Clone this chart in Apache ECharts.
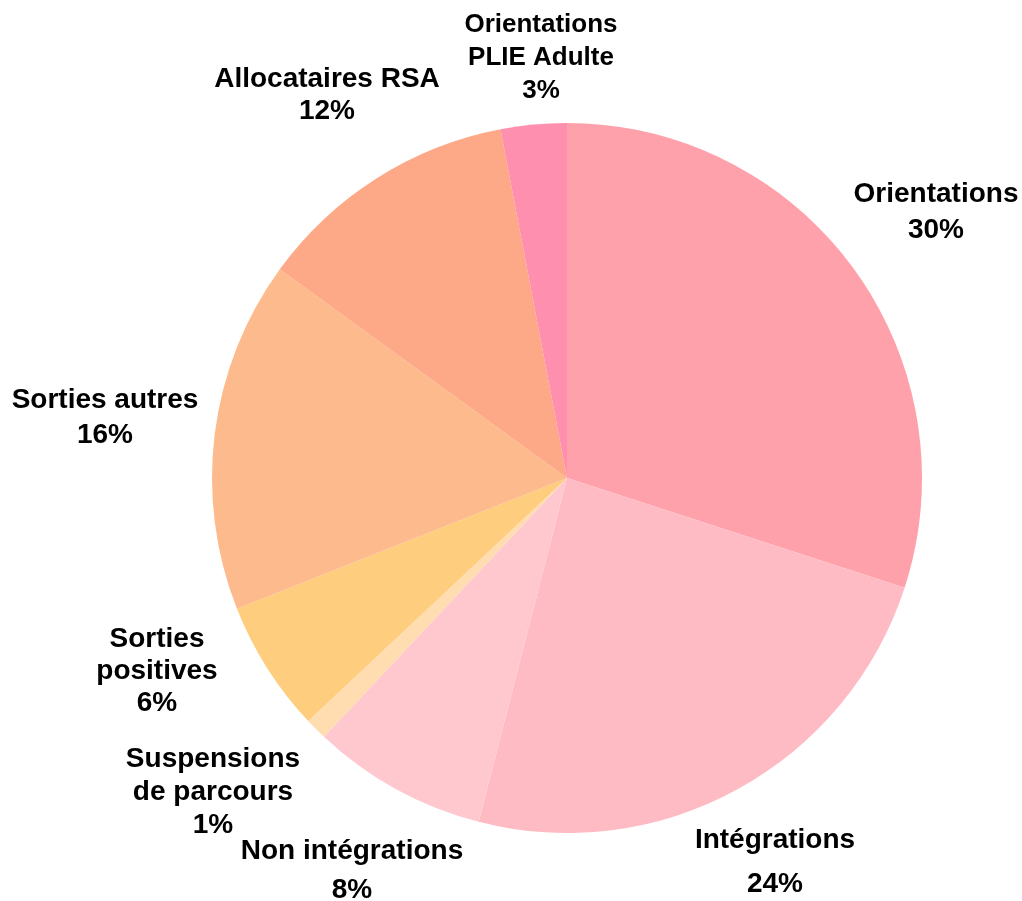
<!DOCTYPE html>
<html>
<head>
<meta charset="utf-8">
<script src="https://cdn.jsdelivr.net/npm/echarts@6/dist/echarts.min.js"></script>
<style>
  html, body { margin: 0; padding: 0; background: #fff; }
  #chart { width: 1022px; height: 901px; }
</style>
</head>
<body>
<div id="chart"></div>
<script>
// Slice names (with line breaks as shown), percentage shares and fill colours
const categories = [
  'Orientations',
  'Intégrations',
  'Non intégrations',
  'Suspensions\nde parcours',
  'Sorties\npositives',
  'Sorties autres',
  'Allocataires RSA',
  'Orientations\nPLIE Adulte'
];
const shares = [30, 24, 8, 1, 6, 16, 12, 3];
const colors = ['#FFA1AB', '#FFBBC3', '#FFC8CF', '#FFDDB0', '#FECD7D', '#FDBA8D', '#FDA886', '#FF8FAE'];

// Label text-block centres around the pie, and their line spacing
const labelAnchors = [
  [936, 212], [775, 862], [352, 871], [213, 792],
  [157, 671], [105, 418], [327, 95], [541, 58]
];
const labelLineHeights = [36, 44, 39, 33, 32, 35, 32, 33];
const labelFontSizes = [28, 28, 28, 28, 28, 28, 28, 26];

const chart = echarts.init(document.getElementById('chart'), null, { renderer: 'canvas' });

chart.setOption({
  animation: false,
  backgroundColor: '#ffffff',
  series: [{
    type: 'pie',
    center: [567, 478],
    radius: 355,
    startAngle: 90,
    clockwise: true,
    avoidLabelOverlap: false,
    data: categories.map((name, i) => ({
      name: name,
      value: shares[i],
      itemStyle: { color: colors[i] },
      label: { lineHeight: labelLineHeights[i], fontSize: labelFontSizes[i] }
    })),
    itemStyle: { borderWidth: 0 },
    label: {
      show: true,
      position: 'outside',
      formatter: p => p.name + '\n' + p.value + '%',
      fontFamily: 'Liberation Sans, Arial, sans-serif',
      fontWeight: 'bold',
      fontSize: 28,
      color: '#000',
      align: 'center'
    },
    labelLine: { show: false },
    labelLayout: params => ({
      x: labelAnchors[params.dataIndex][0],
      y: labelAnchors[params.dataIndex][1],
      align: 'center',
      verticalAlign: 'middle'
    }),
    emphasis: { disabled: true }
  }]
});
</script>
</body>
</html>
